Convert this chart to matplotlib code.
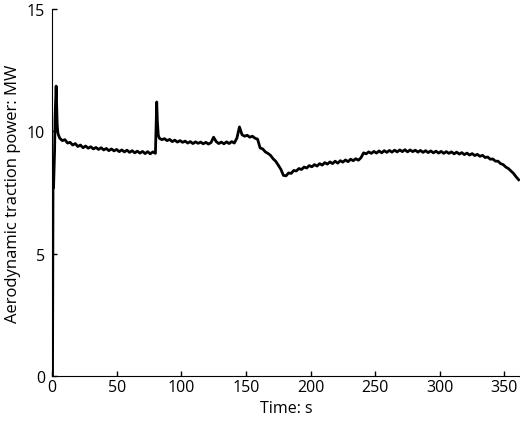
import matplotlib
matplotlib.use("Agg")
import matplotlib.pyplot as plt
import numpy as np

plt.rcParams['font.family'] = ['Open Sans', 'DejaVu Sans']

# start-up transient (s, MW)
t_start = [0, 0.4, 0.8, 1.2, 1.6, 2.0, 2.4, 2.8, 3.2, 3.6, 4.0, 4.5, 5.0]
p_start = [0, 0, 8.0, 7.7, 8.4, 9.2, 10.6, 11.3, 11.85, 11.0, 10.3, 9.95, 9.85]

# 6 s .. 80 s, every 2 s
p_a = [9.72, 9.62, 9.66, 9.52, 9.55, 9.44, 9.50, 9.38, 9.44, 9.33,
       9.40, 9.31, 9.37, 9.28, 9.34, 9.26, 9.33, 9.24, 9.30, 9.21,
       9.28, 9.20, 9.26, 9.17, 9.24, 9.16, 9.23, 9.14, 9.21, 9.12,
       9.19, 9.11, 9.18, 9.09, 9.17, 9.08, 9.16, 9.10]

# second spike around 81 s
t_spike = [80.6, 81.0, 81.5, 82.2]
p_spike = [10.3, 11.2, 10.4, 9.85]

# 83 s .. 361 s, every 2 s
p_b = [9.72, 9.66, 9.70, 9.62, 9.67, 9.58, 9.64, 9.56, 9.62, 9.55,
       9.60, 9.52, 9.58, 9.50, 9.57, 9.51, 9.56, 9.49, 9.55, 9.48,
       9.54, 9.76, 9.58, 9.50, 9.56, 9.49, 9.57, 9.50, 9.58, 9.52,
       9.72, 10.18, 9.86, 9.80, 9.84, 9.76, 9.80, 9.72, 9.68, 9.32,
       9.28, 9.16, 9.10, 9.02, 8.88, 8.78, 8.62, 8.45, 8.20, 8.18,
       8.30, 8.28, 8.40, 8.38, 8.48, 8.44, 8.54, 8.50, 8.60, 8.55,
       8.64, 8.58, 8.68, 8.62, 8.72, 8.66, 8.75, 8.68, 8.78, 8.70,
       8.80, 8.74, 8.83, 8.76, 8.86, 8.80, 8.88, 8.82, 8.92, 9.12,
       9.08, 9.16, 9.10, 9.18, 9.11, 9.20, 9.12, 9.21, 9.14, 9.22,
       9.15, 9.23, 9.16, 9.24, 9.17, 9.25, 9.16, 9.24, 9.17, 9.23,
       9.15, 9.22, 9.14, 9.21, 9.13, 9.20, 9.12, 9.19, 9.11, 9.18,
       9.10, 9.17, 9.10, 9.16, 9.08, 9.15, 9.07, 9.13, 9.05, 9.11,
       9.03, 9.09, 9.01, 9.06, 8.98, 9.02, 8.93, 8.95, 8.86, 8.87,
       8.78, 8.78, 8.68, 8.64, 8.54, 8.48, 8.38, 8.28, 8.14, 8.02]

t_a = 6 + 2 * np.arange(len(p_a))
t_b = 83 + 2 * np.arange(len(p_b))

t = np.concatenate([t_start, t_a, t_spike, t_b])
p = np.concatenate([p_start, p_a, p_spike, p_b])

fig = plt.figure(figsize=(5.2, 4.27), dpi=100)
ax = fig.add_axes([52 / 520, 50 / 427, 468 / 520, 367 / 427])

ax.plot(t, p, color='black', lw=2.0)

ax.set_xlim(0, 362)
ax.set_ylim(0, 15)
ax.set_xticks(np.arange(0, 351, 50))
ax.set_yticks([0, 5, 10, 15])
ax.spines['top'].set_visible(False)
ax.spines['right'].set_visible(False)
ax.tick_params(direction='in', length=3.5, width=1, labelsize=11.5)
ax.tick_params(axis='x', pad=2)
ax.tick_params(axis='y', pad=5)
ax.set_xlabel('Time: s', fontsize=11.5, labelpad=4)
ax.set_ylabel('Aerodynamic traction power: MW', fontsize=12, labelpad=4)

fig.savefig('out.png', dpi=100)
